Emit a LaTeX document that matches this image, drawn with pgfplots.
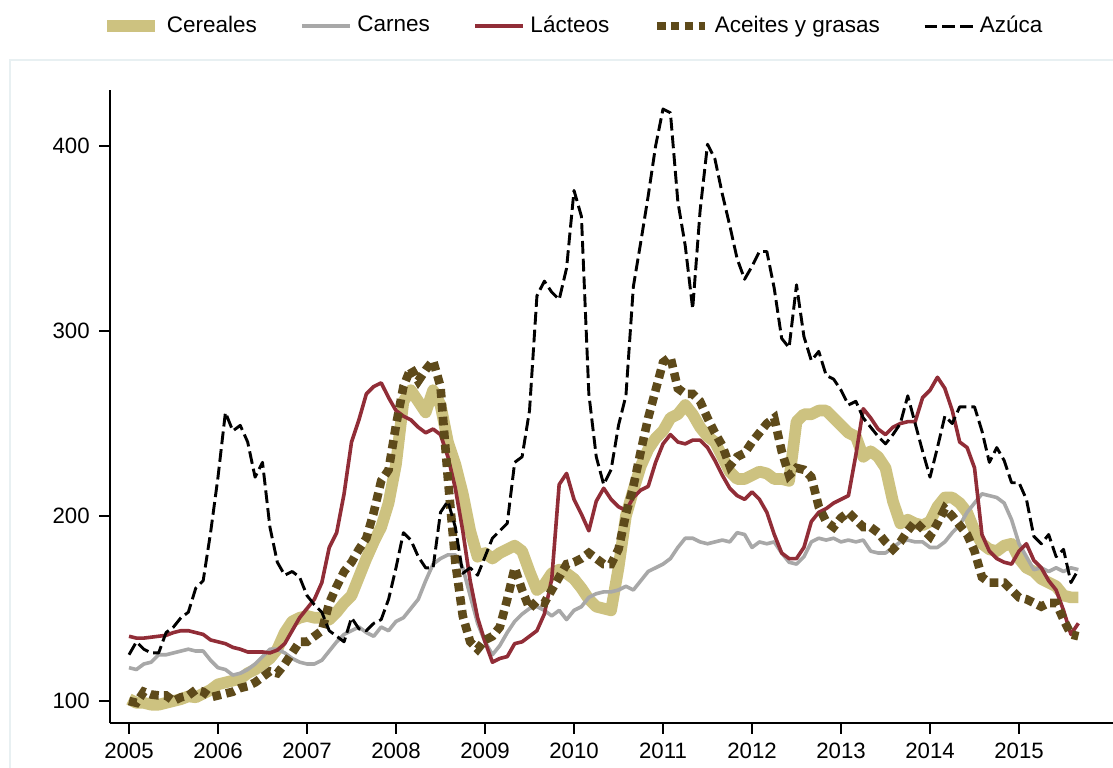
\documentclass[border=0pt]{standalone}
\usepackage{fontspec}
\setmainfont{Liberation Sans}
\usepackage{pgfplots}
\usepackage{pgfplotstable}
\pgfplotsset{compat=1.18}

\definecolor{cereal}{RGB}{205,194,128}
\definecolor{carne}{RGB}{168,168,168}
\definecolor{lacteo}{RGB}{145,45,55}
\definecolor{aceite}{RGB}{94,74,26}
\definecolor{marco}{RGB}{232,240,242}

% FAO price sub-indices, monthly from 2005m1 (m = months since Jan 2005)
\pgfplotstableread{
m C M D O S
0 101 118 135 100 125
1 99 117 134 99 132
2 99 120 134 105 128
3 98 121 134.5 103.5 126
4 98 125 135 103 126
5 99 125 135.5 103 137
6 100 126 137 100 140
7 101 127 138 102 145
8 102.5 128 138 103 148
9 102 127 137 106 161
10 104 127 136 105 165
11 106 122 133 102 191
12 109 118 132 103 221
13 110 117 131 104 256
14 111 114 129 105 246
15 112 115 128 107 249
16 115 117 126.5 108 240
17 117 120 126.5 110 221
18 120 124 126.5 113 229
19 123 128 126 116 194
20 128 128 127.5 115 175
21 137 126 131 120 168
22 143 123 138 126 170
23 145 121 145 132 167
24 146 120 150 132 157
25 145 120 155 135 152
26 145 122 164 138 148
27 144 127 183 153 138
28 148 132 191 162 135
29 153 136 212 170 132
30 157 138 240 175 145
31 167 140 252 182 139
32 177 137 266 188 138
33 186 135 270 202 142
34 194 140 272 219 144
35 207 138 264 225 155
36 228 143 257 249 172
37 262 145 254 270 191
38 268 150 252 280 187
39 262 155 248 273 178
40 256 165 245 279 172
41 268 174 247 284 172
42 260 177 244 270 202
43 240 179 232 220 208
44 228 179 215 175 194
45 212 172 192 146 169
46 192 157 165 132 172
47 178 142 145 128 168
48 180 132 132 133 178
49 177 125 121 135 188
50 180 130 123 140 192
51 182 137 124 155 196
52 184 143 131 172 229
53 181 147 132 160 232
54 170 150 135 150 257
55 160 151 138 154 319
56 163 149 147 153 327
57 169 146 166 160 321
58 171 149 217 167 317
59 169 144 223 174 334
60 166 149 209 175 376
61 161 151 201 177 362
62 155 156 192 180 266
63 151 158 208 177 232
64 150 159 215 174 217
65 149 159 209 174 225
66 172 160 205 182 249
67 200 162 203 201 265
68 214 160 210 216 324
69 227 165 214 235 348
70 236 170 216 253 373
71 242 172 229 268 400
72 246 174 239 283 420
73 253 177 244 286 418
74 255 183 240 269 370
75 260 188 239 266 346
76 255 188 241 266 312
77 248 186 241 262 365
78 243 185 237 253 401
79 240 186 230 245 393
80 232 187 222 238 374
81 224 186 215 227 357
82 220 191 211 232 339
83 220 190 209 234 328
84 222 183 213 240 335
85 224 186 209 245 343
86 223 185 202 250 343
87 220 186 190 253 323
88 220 180 180 235 296
89 219 175 177 222 291
90 251 174 177 226 325
91 255 178 183 225 297
92 255 186 197 221 284
93 257 188 202 205 289
94 257 187 204 197 276
95 253 188 207 194 274
96 249 186 209 199 268
97 245 187 211 202 260
98 243 186 233 198 262
99 232 187 258 194 253
100 235 181 253 194 248
101 232 180 247 191 243
102 226 180 244 186 239
103 208 183 248 182 244
104 196 186 250 186 250
105 198 187 251 192 265
106 196 186 251 197 250
107 195 186 264 193 235
108 197 183 268 189 221
109 205 183 275 196 237
110 210 186 269 204 254
111 210 191 257 200 250
112 207 195 240 195 259
113 202 202 237 190 259
114 192 207 226 181 259
115 185 212 190 167 246
116 182 211 181 164 229
117 181 210 177 164 237
118 184 207 175 164 230
119 185 198 174 160 218
120 177 185 181 156 218
121 172 178 185 155 209
122 170 171 176 153 189
123 166 172 172 151 185
124 164 170 165 153 190
125 162 172 160 153 178
126 157 170 149 144 182
127 156 172 136 136 164
128 156 171 142 135 171
}\precios

\begin{document}
\begin{tikzpicture}
\useasboundingbox (0pt,0pt) rectangle (400.68pt,276.12pt);
\draw[marco, line width=0.6pt] (3.6pt,-2pt) -- (3.6pt,254.5pt) -- (404pt,254.5pt);
\begin{axis}[
    at={(39.6pt,15.84pt)}, anchor=south west,
    scale only axis,
    width=361.08pt, height=227.88pt,
    xmin=2004.7865, xmax=2016.056,
    ymin=88.1, ymax=430.3,
    axis x line*=bottom, axis y line*=left,
    axis line style={line width=0.7pt, -},
    tick align=outside,
    major tick length=3.8pt,
    tick style={line width=0.55pt, black},
    xtick={2005,2006,...,2015},
    ytick={100,200,300,400},
    x tick label style={/pgf/number format/1000 sep={}},
    /pgf/number format/assume math mode=true,
    ticklabel style={font=\fontsize{8}{9.6}\selectfont},
    legend columns=5,
    legend style={at={(-0.009,1.101)}, anchor=west, draw=none, fill=none,
        inner sep=0pt, font=\fontsize{8.1}{9.7}\selectfont,
        /tikz/every even column/.append style={column sep=13.6pt}},
    legend image code/.code={\draw[#1] (0pt,0pt) -- (17.3pt,0pt);},
]
\addplot[cereal, line width=4.2pt, line join=round]
    table[x expr=2005+\thisrow{m}/12, y=C] {\precios};
\addlegendentry{Cereales}
\addplot[carne, line width=1.3pt, line join=round]
    table[x expr=2005+\thisrow{m}/12, y=M] {\precios};
\addlegendentry{Carnes}
\addplot[lacteo, line width=1.3pt, line join=round]
    table[x expr=2005+\thisrow{m}/12, y=D] {\precios};
\addlegendentry{Lácteos}
\addplot[aceite, line width=3.1pt, dash pattern=on 3.1pt off 1.9pt]
    table[x expr=2005+\thisrow{m}/12, y=O] {\precios};
\addlegendentry{Aceites y grasas}
\addplot[black, line width=1.05pt, dash pattern=on 4.6pt off 1.8pt, line join=round]
    table[x expr=2005+\thisrow{m}/12, y=S] {\precios};
\addlegendentry{Azúca}
\end{axis}
\end{tikzpicture}
\end{document}
